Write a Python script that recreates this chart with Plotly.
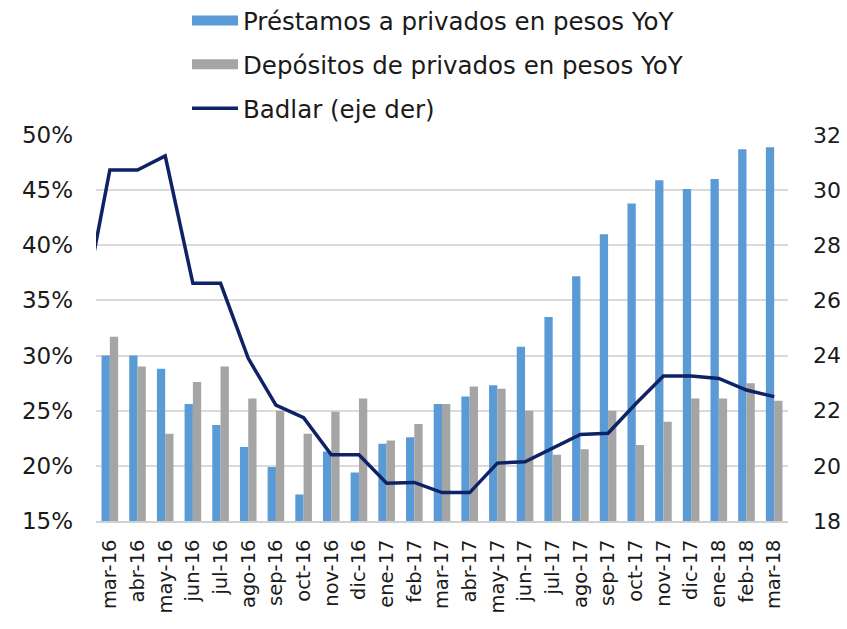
import plotly.graph_objects as go

months = ["mar-16", "abr-16", "may-16", "jun-16", "jul-16", "ago-16", "sep-16", "oct-16",
          "nov-16", "dic-16", "ene-17", "feb-17", "mar-17", "abr-17", "may-17", "jun-17",
          "jul-17", "ago-17", "sep-17", "oct-17", "nov-17", "dic-17", "ene-18", "feb-18", "mar-18"]

prestamos = [30.0, 30.0, 28.8, 25.6, 23.7, 21.7, 19.9, 17.4, 21.3, 19.4, 22.0, 22.6, 25.6,
             26.3, 27.3, 30.8, 33.5, 37.2, 41.0, 43.8, 45.9, 45.1, 46.0, 48.7, 48.9]

depositos = [31.7, 29.0, 22.9, 27.6, 29.0, 26.1, 25.0, 22.9, 24.9, 26.1, 22.3, 23.8, 25.6,
             27.2, 27.0, 25.0, 21.0, 21.5, 25.0, 21.9, 24.0, 26.1, 26.1, 27.5, 25.9]

# Badlar (right axis); the series starts one month earlier (feb-16), clipped at the left edge
badlar_months = ["feb-16"] + months
badlar = [25.5, 30.73, 30.73, 31.24, 26.62, 26.62, 23.9, 22.2, 21.75, 20.4, 20.4, 19.37, 19.4,
          19.03, 19.03, 20.1, 20.15, 20.64, 21.14, 21.18, 22.25, 23.26, 23.26, 23.17, 22.75, 22.51]

left_ticks = [15, 20, 25, 30, 35, 40, 45, 50]
right_ticks = [18, 20, 22, 24, 26, 28, 30, 32]

names = ["Préstamos a privados en pesos YoY", "Depósitos de privados en pesos YoY", "Badlar (eje der)"]

FONT = "DejaVu Sans"
BLUE = "#5B9BD5"
GRAY = "#A5A5A5"
NAVY = "#0E2265"

fig = go.Figure()
fig.add_trace(go.Bar(x=months, y=prestamos, name=names[0], showlegend=False,
                     marker=dict(color=BLUE, line=dict(width=0))))
fig.add_trace(go.Bar(x=months, y=depositos, name=names[1], showlegend=False,
                     marker=dict(color=GRAY, line=dict(width=0))))
fig.add_trace(go.Scatter(x=badlar_months, y=badlar, name=names[2], mode="lines",
                         line=dict(color=NAVY, width=3.5), yaxis="y2", legendgroup="c",
                         legendrank=3))
# legend-only entries with wide rectangular swatches for the bar series
fig.add_trace(go.Scatter(x=[None], y=[None], name=names[0], mode="lines",
                         line=dict(color=BLUE, width=15), legendgroup="a", legendrank=1,
                         hoverinfo="skip"))
fig.add_trace(go.Scatter(x=[None], y=[None], name=names[1], mode="lines",
                         line=dict(color=GRAY, width=15), legendgroup="b", legendrank=2,
                         hoverinfo="skip"))

fig.update_layout(
    width=847, height=629,
    paper_bgcolor="white", plot_bgcolor="white",
    margin=dict(l=96, r=59, t=135, b=108, autoexpand=False),
    barmode="group", bargap=0.4, bargroupgap=0,
    font=dict(family=FONT, color="#1a1a1a"),
    showlegend=True,
    legend=dict(x=0.1315, y=1.3549, xanchor="left", yanchor="top",
                font=dict(size=24.5, family=FONT, color="#1a1a1a"),
                tracegroupgap=9, itemwidth=46, bgcolor="rgba(0,0,0,0)"),
    xaxis=dict(type="category", categoryorder="array", categoryarray=badlar_months,
               range=[0.5, 25.5], tickangle=-90, tickfont=dict(size=19.5, family=FONT),
               showgrid=False, showline=True, linecolor="#D0D0D0", linewidth=1.5,
               ticks="", ticklabelstandoff=9, automargin=False),
    yaxis=dict(range=[15, 50], tickvals=left_ticks, ticktext=[f"{v}%" for v in left_ticks],
               showgrid=True, gridcolor="#DADADA", gridwidth=1.5, zeroline=False,
               tickfont=dict(size=23, family=FONT), ticks="", ticklabelstandoff=22,
               automargin=False),
    yaxis2=dict(range=[18, 32], tickvals=right_ticks, overlaying="y", side="right",
                showgrid=False, zeroline=False, tickfont=dict(size=22, family=FONT),
                ticks="", ticklabelstandoff=24, automargin=False),
)

fig.write_html("out.html", config={"displayModeBar": False},
               post_script="document.body.style.margin='0';")
